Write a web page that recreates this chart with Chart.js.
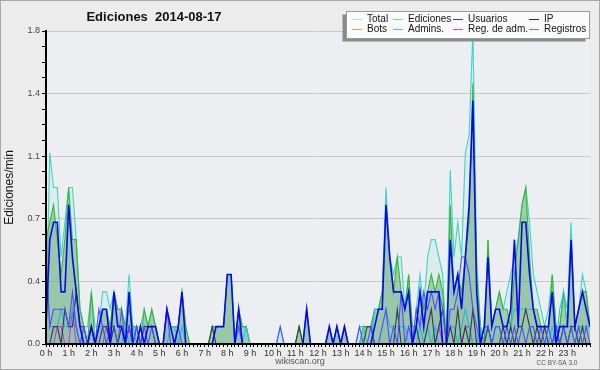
<!DOCTYPE html>
<html lang="es">
<head>
<meta charset="UTF-8">
<title>Ediciones 2014-08-17</title>
<script src="https://cdn.jsdelivr.net/npm/chart.js"></script>
<style>
  body { margin: 0; background: #ececec; }
  canvas { display: block; }
</style>
</head>
<body>
<canvas id="editsChart" width="600" height="370"></canvas>
<script>
// edits per minute, one value per 10 minutes (00:00 .. 24:00), one row per hour
const total = [
  0.1, 1.1, 0.9, 0.9, 0.5, 0.7,
  0.9, 0.9, 0.6, 0.2, 0.1, 0.1,
  0.3, 0.1, 0.1, 0.3, 0.3, 0.2,
  0.3, 0.2, 0.2, 0.1, 0.4, 0.1,
  0.1, 0.1, 0.2, 0.1, 0.2, 0.1,
  0, 0, 0.2, 0.1, 0.1, 0.1,
  0.3, 0.1, 0, 0, 0, 0,
  0, 0, 0.1, 0.1, 0.1, 0.1,
  0.4, 0.4, 0, 0.2, 0.1, 0.1,
  0, 0, 0, 0, 0, 0,
  0, 0, 0.1, 0, 0, 0,
  0, 0.1, 0, 0.2, 0, 0,
  0, 0, 0, 0.1, 0, 0.1,
  0, 0.1, 0, 0, 0, 0.1,
  0.1, 0.1, 0.1, 0.2, 0.2, 0.3,
  0.9, 0.5, 0.4, 0.5, 0.5, 0.2,
  0.4, 0, 0.2, 0.4, 0.2, 0.5,
  0.6, 0.6, 0.5, 0.4, 0, 1.0,
  0.5, 0.7, 0.5, 1.1, 1.2, 1.8,
  0.5, 0.1, 0, 0.6, 0.1, 0.2,
  0.3, 0.2, 0.3, 0.4, 0.5, 0.6,
  0.8, 0.9, 0.7, 0.4, 0.3, 0.2,
  0.1, 0.2, 0.4, 0.1, 0.1, 0.3,
  0.2, 0.7, 0.1, 0.2, 0.4, 0.3,
  0.1
];
const ediciones = [
  0.6, 0.7, 0.8, 0.6, 0.4, 0.6,
  0.9, 0.6, 0.6, 0.2, 0.1, 0,
  0.3, 0, 0.1, 0.2, 0.2, 0.1,
  0.3, 0.2, 0.2, 0.1, 0.2, 0.1,
  0.1, 0, 0.2, 0.1, 0.2, 0.1,
  0, 0, 0.2, 0.1, 0.1, 0.1,
  0.3, 0.1, 0, 0, 0, 0,
  0, 0, 0.1, 0.1, 0.1, 0.1,
  0.4, 0.4, 0, 0.2, 0.1, 0.1,
  0, 0, 0, 0, 0, 0,
  0, 0, 0, 0, 0, 0,
  0, 0.1, 0, 0.2, 0, 0,
  0, 0, 0, 0.1, 0, 0.1,
  0, 0.1, 0, 0, 0, 0,
  0.1, 0.1, 0.1, 0.2, 0.2, 0.3,
  0.8, 0.5, 0.3, 0.5, 0.3, 0.2,
  0.4, 0.1, 0.1, 0.3, 0.2, 0.3,
  0.4, 0.3, 0.4, 0.3, 0, 0.8,
  0.3, 0.4, 0.3, 0.5, 0.7, 1.5,
  0.4, 0.1, 0, 0.6, 0.1, 0.2,
  0.3, 0.2, 0.2, 0.1, 0.4, 0.6,
  0.8, 0.9, 0.5, 0.2, 0.2, 0.1,
  0.1, 0.1, 0.4, 0.1, 0.1, 0.3,
  0.1, 0.6, 0.1, 0.2, 0.3, 0.3,
  0.1
];
const usuarios = [
  0.1, 0.6, 0.7, 0.7, 0.3, 0.3,
  0.8, 0.5, 0.3, 0.1, 0, 0,
  0.1, 0, 0.1, 0.2, 0.2, 0,
  0.3, 0.1, 0.1, 0, 0.3, 0,
  0, 0.1, 0, 0.1, 0.1, 0.1,
  0, 0, 0.2, 0.1, 0, 0.1,
  0.3, 0, 0, 0, 0, 0,
  0, 0, 0, 0.1, 0.1, 0.1,
  0.4, 0.4, 0, 0.2, 0, 0,
  0, 0, 0, 0, 0, 0,
  0, 0, 0, 0, 0, 0,
  0, 0, 0, 0.2, 0, 0,
  0, 0, 0, 0.1, 0, 0.1,
  0, 0.1, 0, 0, 0, 0,
  0, 0, 0, 0.1, 0.2, 0.2,
  0.8, 0.5, 0.3, 0.3, 0.3, 0.2,
  0.3, 0, 0.1, 0.3, 0.1, 0.3,
  0.3, 0.3, 0.3, 0, 0, 0.6,
  0.3, 0.4, 0.2, 0.5, 0.8, 1.4,
  0.3, 0, 0.1, 0.5, 0.1, 0.2,
  0.2, 0.1, 0.1, 0.2, 0.6, 0.1,
  0.7, 0.7, 0.4, 0.2, 0.1, 0.1,
  0.1, 0.1, 0.3, 0, 0.1, 0.1,
  0.1, 0.6, 0.1, 0.2, 0.3, 0.2,
  0.1
];
const ip = [
  0, 0, 0.1, 0.1, 0, 0.2,
  0.1, 0.1, 0.3, 0.1, 0.1, 0,
  0.1, 0, 0, 0.1, 0.1, 0,
  0.1, 0, 0.1, 0, 0.1, 0,
  0.1, 0, 0.1, 0.1, 0.1, 0,
  0, 0, 0, 0, 0, 0,
  0, 0, 0, 0, 0, 0,
  0, 0, 0.1, 0, 0, 0,
  0, 0, 0, 0, 0, 0,
  0, 0, 0, 0, 0, 0,
  0, 0, 0, 0, 0, 0,
  0, 0.1, 0, 0, 0, 0,
  0, 0, 0, 0, 0, 0,
  0, 0, 0, 0, 0, 0,
  0, 0.1, 0.1, 0, 0, 0,
  0, 0, 0, 0.2, 0, 0,
  0, 0, 0.1, 0, 0, 0.1,
  0.2, 0, 0.1, 0.2, 0, 0.1,
  0, 0.2, 0, 0.1, 0, 0.2,
  0, 0, 0, 0.1, 0, 0,
  0, 0.1, 0, 0.1, 0, 0.1,
  0.1, 0.2, 0.1, 0, 0.1, 0,
  0.1, 0, 0, 0.1, 0, 0.1,
  0, 0.1, 0.1, 0, 0.1, 0,
  0
];
const bots = [
  0, 0, 0, 0, 0, 0,  0, 0, 0, 0, 0, 0,  0, 0, 0, 0, 0, 0,  0, 0, 0, 0, 0, 0,
  0, 0, 0, 0, 0, 0,  0, 0, 0, 0, 0, 0,  0, 0, 0, 0, 0, 0,  0, 0, 0, 0, 0, 0,
  0, 0, 0, 0, 0, 0,  0, 0, 0, 0, 0, 0,  0, 0, 0, 0, 0, 0,  0, 0, 0, 0, 0, 0,
  0, 0, 0, 0, 0, 0,  0, 0, 0, 0, 0, 0,  0, 0, 0, 0, 0, 0,  0, 0, 0, 0, 0, 0,
  0, 0, 0, 0, 0, 0,  0, 0, 0, 0, 0, 0,  0, 0, 0, 0, 0, 0,  0, 0, 0, 0, 0, 0,
  0, 0, 0, 0, 0, 0,  0, 0, 0, 0, 0, 0,  0, 0, 0, 0, 0, 0,  0, 0, 0, 0, 0, 0,
  0
];
const admins = [
  0.5, 0.1, 0.1, 0.1, 0.2, 0.1,
  0.1, 0.2, 0.1, 0, 0.1, 0,
  0, 0, 0.1, 0.1, 0, 0,
  0.1, 0, 0, 0.1, 0, 0.1,
  0, 0.1, 0, 0, 0, 0,
  0, 0, 0, 0.1, 0.1, 0,
  0.1, 0, 0, 0, 0, 0,
  0, 0, 0, 0, 0, 0,
  0, 0, 0, 0.1, 0, 0.1,
  0, 0, 0, 0, 0, 0,
  0, 0, 0, 0, 0, 0,
  0, 0, 0, 0, 0, 0,
  0, 0, 0, 0, 0, 0,
  0, 0, 0, 0, 0, 0,
  0.1, 0, 0, 0.2, 0.2, 0.2,
  0.2, 0.1, 0.1, 0.1, 0.1, 0.1,
  0, 0, 0, 0.1, 0, 0.1,
  0, 0.1, 0, 0, 0, 0.1,
  0.1, 0, 0.1, 0.2, 0.1, 0,
  0, 0.1, 0, 0.1, 0, 0.1,
  0.1, 0, 0, 0.1, 0.2, 0.2,
  0.2, 0.2, 0.2, 0.2, 0.1, 0.1,
  0.1, 0, 0.1, 0, 0.2, 0.3,
  0.1, 0.1, 0, 0.1, 0.1, 0.1,
  0.1
];
const regAdm = [
  0, 0, 0, 0.1, 0.1, 0,
  0, 0.2, 0, 0, 0, 0,
  0, 0, 0, 0, 0.1, 0,
  0, 0, 0, 0, 0.1, 0,
  0, 0, 0, 0, 0, 0,  0, 0, 0, 0, 0, 0,  0, 0, 0, 0, 0, 0,  0, 0, 0, 0, 0, 0,
  0, 0, 0, 0, 0, 0,  0, 0, 0, 0, 0, 0,  0, 0, 0, 0, 0, 0,  0, 0, 0, 0, 0, 0,
  0, 0, 0, 0, 0, 0,  0, 0, 0, 0, 0, 0,  0, 0, 0, 0, 0, 0,  0, 0, 0, 0, 0, 0,
  0, 0, 0, 0, 0, 0,
  0, 0, 0.1, 0, 0, 0,
  0, 0, 0, 0.1, 0.1, 0,
  0, 0, 0, 0, 0, 0,  0, 0, 0, 0, 0, 0,  0, 0, 0, 0, 0, 0,
  0, 0, 0, 0, 0, 0,  0, 0, 0, 0, 0, 0,
  0
];
const registros = [
  0.5, 0.1, 0.2, 0.2, 0.2, 0.2,
  0.1, 0.3, 0.1, 0, 0.1, 0,
  0.1, 0, 0.2, 0.1, 0, 0.1,
  0.1, 0, 0.2, 0, 0.1, 0,
  0.1, 0, 0.1, 0, 0.1, 0,
  0, 0, 0.2, 0, 0, 0.1,
  0, 0, 0, 0, 0, 0,
  0, 0, 0, 0, 0, 0,
  0, 0, 0, 0.1, 0, 0,
  0, 0, 0, 0, 0, 0,
  0, 0, 0.1, 0, 0, 0,
  0, 0, 0, 0, 0, 0,
  0, 0, 0, 0, 0, 0,
  0, 0, 0, 0, 0, 0.1,
  0, 0, 0.1, 0, 0, 0.1,
  0.2, 0, 0.1, 0, 0.3, 0,
  0.1, 0, 0.2, 0.1, 0.3, 0.2,
  0.3, 0.2, 0.3, 0.2, 0, 0.2,
  0.2, 0.3, 0.5, 0.5, 0.4, 0.2,
  0.1, 0, 0.1, 0.1, 0, 0.1,
  0.1, 0, 0.1, 0, 0.1, 0,
  0.1, 0, 0.1, 0.1, 0, 0.1,
  0, 0.1, 0, 0.1, 0, 0.1,
  0, 0.1, 0, 0.1, 0, 0.1,
  0
];

const hourLabels = ['0 h', '1 h', '2 h', '3 h', '4 h', '5 h', '6 h', '7 h', '8 h', '9 h', '10 h', '11 h',
  '12 h', '13 h', '14 h', '15 h', '16 h', '17 h', '18 h', '19 h', '20 h', '21 h', '22 h', '23 h'];
const yTickValues = [0, 0.36, 0.72, 1.08, 1.44, 1.8];
const yTickLabels = ['0.0', '0.4', '0.7', '1.1', '1.4', '1.8'];

const toPoints = arr => arr.map((v, i) => ({ x: i, y: v }));

// minor ticks: every 10 minutes on x, quarter steps on y
const xTicks = total.map((v, i) => ({ value: i }));
const yTicks = [];
yTickValues.forEach((v, i) => {
  yTicks.push({ value: v });
  if (i < yTickValues.length - 1) {
    const step = (yTickValues[i + 1] - v) / 4;
    for (let k = 1; k < 4; k++) yTicks.push({ value: v + step * k });
  }
});

const datasets = [
  { label: 'Total', data: toPoints(total), borderColor: '#3fd4c4', backgroundColor: 'rgba(170,232,218,0.25)',
    fill: 'origin', order: 8, legendColor: '#a6e4df' },
  { label: 'Ediciones', data: toPoints(ediciones), borderColor: '#3ab43a', backgroundColor: 'rgba(72,166,74,0.42)',
    fill: 'origin', order: 7, legendColor: '#8ed48e' },
  { label: 'Usuarios', data: toPoints(usuarios), borderColor: '#0808ee', backgroundColor: 'rgba(0,0,230,0.03)',
    fill: 'origin', borderWidth: 1.6, order: 1, legendColor: '#3a3ade' },
  { label: 'IP', data: toPoints(ip), borderColor: '#3a3a3a', order: 3, legendColor: '#303030' },
  { label: 'Bots', data: toPoints(bots), borderColor: '#f0a040', order: 6, legendColor: '#f0a040' },
  { label: 'Admins.', data: toPoints(admins), borderColor: '#28c2da', order: 4, legendColor: '#44c8e0' },
  { label: 'Reg. de adm.', data: toPoints(regAdm), borderColor: '#cc3ce0', order: 5, legendColor: '#e044e0' },
  { label: 'Registros', data: toPoints(registros), borderColor: '#5050ff', backgroundColor: 'rgba(80,80,255,0.05)',
    fill: 'origin', order: 2, legendColor: '#7272f0' }
];
datasets.forEach(d => { d.borderWidth = d.borderWidth || 1.1; });

// background, axes on top, title, legend box and footer
const decor = {
  id: 'decor',
  beforeDraw(chart) {
    const { ctx, chartArea: a } = chart;
    ctx.save();
    ctx.fillStyle = '#ececec';
    ctx.fillRect(0, 0, chart.width, chart.height);
    ctx.fillStyle = '#edeef1';
    ctx.fillRect(a.left, a.top, a.right - a.left, a.bottom - a.top);
    ctx.strokeStyle = '#a8a8a8';
    ctx.lineWidth = 1;
    ctx.strokeRect(0.5, 0.5, chart.width - 1, chart.height - 1);
    ctx.restore();
  },
  afterDatasetsDraw(chart) {
    const { ctx, chartArea: a } = chart;
    ctx.save();
    ctx.strokeStyle = '#000';
    ctx.lineWidth = 2;
    ctx.beginPath();
    ctx.moveTo(a.left, a.top);
    ctx.lineTo(a.left, a.bottom);
    ctx.lineTo(a.right, a.bottom);
    ctx.stroke();
    ctx.restore();
  },
  afterDraw(chart) {
    const ctx = chart.ctx;
    ctx.save();
    ctx.fillStyle = '#111';
    ctx.font = 'bold 13px "Liberation Sans", Arial, sans-serif';
    ctx.textAlign = 'center';
    ctx.textBaseline = 'alphabetic';
    ctx.fillText('Ediciones  2014-08-17', 154, 21);

    // legend
    const bx = 346.5, by = 11.5, bw = 243, bh = 27;
    ctx.fillStyle = '#8a8a8a';
    ctx.fillRect(bx - 4, by + 3, bw, bh);
    ctx.fillStyle = '#fbfbfb';
    ctx.fillRect(bx, by, bw, bh);
    ctx.strokeStyle = '#9a9a9a';
    ctx.lineWidth = 1;
    ctx.strokeRect(bx, by, bw, bh);
    const cols = [352, 393, 453, 529];
    const rows = [19.5, 29.5];
    ctx.font = '10px "Liberation Sans", Arial, sans-serif';
    ctx.textAlign = 'left';
    ctx.textBaseline = 'middle';
    chart.data.datasets.forEach((d, i) => {
      const x = cols[i % 4], y = rows[Math.floor(i / 4)];
      ctx.strokeStyle = d.legendColor;
      ctx.beginPath();
      ctx.moveTo(x, y);
      ctx.lineTo(x + 10, y);
      ctx.stroke();
      ctx.fillStyle = '#111';
      ctx.fillText(d.label, x + 15, y);
    });

    // footer
    ctx.fillStyle = '#555';
    ctx.font = '9px "Liberation Sans", Arial, sans-serif';
    ctx.textAlign = 'center';
    ctx.fillText('wikiscan.org', 300, 362);
    ctx.font = '6.5px "Liberation Sans", Arial, sans-serif';
    ctx.fillText('CC BY-SA 3.0', 557, 363);
    ctx.restore();
  }
};

new Chart(document.getElementById('editsChart'), {
  type: 'line',
  data: { datasets: datasets },
  plugins: [decor],
  options: {
    responsive: false,
    animation: false,
    devicePixelRatio: 1,
    layout: { padding: { left: 0, right: 10, top: 31, bottom: 0 } },
    elements: { point: { radius: 0 }, line: { tension: 0 } },
    plugins: { legend: { display: false }, tooltip: { enabled: false } },
    scales: {
      x: {
        type: 'linear', min: 0, max: 144,
        afterBuildTicks: s => { s.ticks = xTicks.map(t => ({ value: t.value })); },
        afterFit: s => { s.height = 26; },
        ticks: {
          autoSkip: false, maxRotation: 0, padding: 1, color: '#333',
          font: { family: '"Liberation Sans", Arial, sans-serif', size: 9 },
          callback: v => (v % 6 === 0 && v < 144) ? hourLabels[v / 6] : ''
        },
        grid: { drawOnChartArea: false, tickLength: 3, tickColor: '#000' },
        border: { color: '#000', width: 2 }
      },
      y: {
        min: 0, max: 1.8,
        afterBuildTicks: s => { s.ticks = yTicks.map(t => ({ value: t.value })); },
        afterFit: s => { s.width = 46; },
        ticks: {
          autoSkip: false, padding: 2, color: '#444',
          font: { family: '"Liberation Sans", Arial, sans-serif', size: 9 },
          callback: (v, i) => i % 4 === 0 ? yTickLabels[i / 4] : ''
        },
        grid: {
          color: c => (c.index % 4 === 0 && c.index > 0) ? '#c9c9c9' : 'rgba(0,0,0,0)',
          tickColor: '#000', tickLength: 4
        },
        border: { color: '#000', width: 2 },
        title: {
          display: true, text: 'Ediciones/min', color: '#111', padding: 2,
          font: { family: '"Liberation Sans", Arial, sans-serif', size: 12 }
        }
      }
    }
  }
});
</script>
</body>
</html>
